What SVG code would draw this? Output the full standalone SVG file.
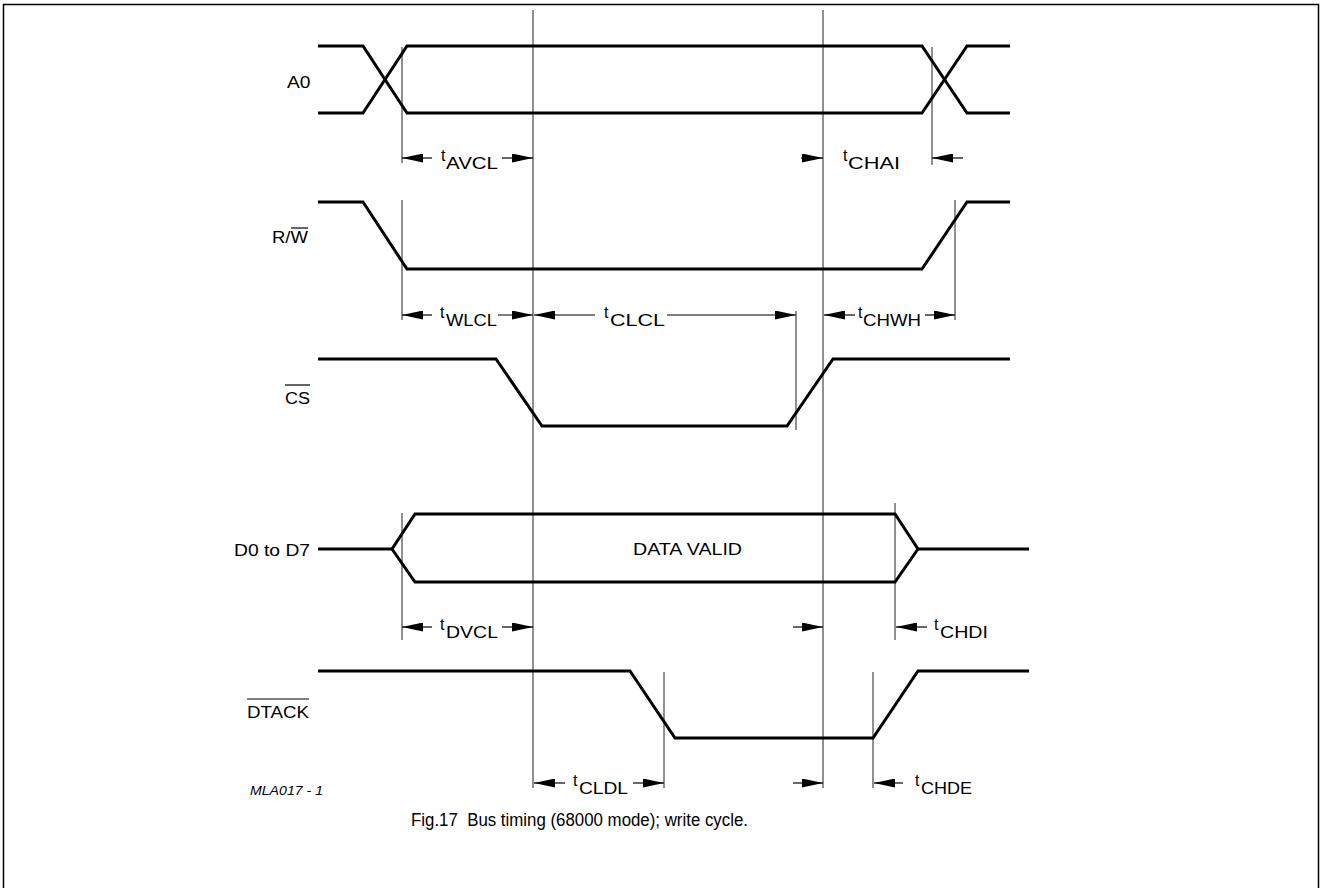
<svg xmlns="http://www.w3.org/2000/svg" width="1322" height="888" viewBox="0 0 1322 888">
<defs>
<marker id="ah" markerUnits="userSpaceOnUse" markerWidth="21" markerHeight="9" refX="21" refY="4.5" orient="auto">
<path d="M0,0 L21,4.5 L0,9 z" fill="#000"/>
</marker>
<style>
.sig{fill:none;stroke:#000;stroke-width:3;stroke-linejoin:miter}
.ref{fill:none;stroke:#222;stroke-width:1}
.arr{fill:none;stroke:#000;stroke-width:1.2;marker-end:url(#ah)}
.ovl{stroke:#000;stroke-width:1.2}
text{font-family:"Liberation Sans",Arial,sans-serif;font-size:16px;fill:#000}
</style>
</defs>
<rect x="0" y="0" width="1322" height="888" fill="#fff"/>
<path d="M3.5,900 V4.5 H1318.5 V900" fill="none" stroke="#000" stroke-width="1.5"/>

<g id="references">
<line class="ref" x1="533" y1="10" x2="533" y2="788"/>
<line class="ref" x1="823" y1="10" x2="823" y2="788"/>
<line class="ref" x1="402" y1="47" x2="402" y2="163"/>
<line class="ref" x1="932" y1="47" x2="932" y2="165"/>
<line class="ref" x1="402" y1="200" x2="402" y2="320"/>
<line class="ref" x1="955" y1="200" x2="955" y2="320"/>
<line class="ref" x1="796" y1="311" x2="796" y2="430"/>
<line class="ref" x1="402" y1="513" x2="402" y2="640"/>
<line class="ref" x1="895" y1="503" x2="895" y2="640"/>
<line class="ref" x1="664" y1="672" x2="664" y2="788"/>
<line class="ref" x1="873" y1="672" x2="873" y2="788"/>
</g>

<g id="sig-A0">
<text x="287" y="88" textLength="23.5" lengthAdjust="spacingAndGlyphs">A0</text>
<path class="sig" d="M318,46 H363 L407,113 H922 L967,46 H1010"/>
<path class="sig" d="M318,113 H363 L407,46 H922 L967,113 H1010"/>
</g>

<g id="sig-RW">
<text x="272" y="243" textLength="36" lengthAdjust="spacingAndGlyphs">R/W</text>
<line class="ovl" x1="291" y1="228" x2="308" y2="228"/>
<path class="sig" d="M318,202 H363 L407,269 H922 L967,202 H1010"/>
</g>

<g id="sig-CS">
<text x="285" y="404" textLength="25" lengthAdjust="spacingAndGlyphs">CS</text>
<line class="ovl" x1="285" y1="385" x2="310" y2="385"/>
<path class="sig" d="M318,359 H496 L542,426 H787 L833,359 H1010"/>
</g>

<g id="sig-D">
<text x="234" y="556" textLength="76" lengthAdjust="spacingAndGlyphs">D0 to D7</text>
<path class="sig" d="M318,549 H392 L415,514 H895 L918,549 H1029"/>
<path class="sig" d="M392,549 L415,582 H895 L918,549"/>
<text x="633" y="555" textLength="109" lengthAdjust="spacingAndGlyphs">DATA VALID</text>
</g>

<g id="sig-DTACK">
<text x="247" y="718" textLength="62" lengthAdjust="spacingAndGlyphs">DTACK</text>
<line class="ovl" x1="247" y1="699" x2="309" y2="699"/>
<path class="sig" d="M318,671 H630 L675,738 H873 L918,671 H1029"/>
</g>

<g id="connectors">
<line class="arr" x1="432" y1="158" x2="402" y2="158"/>
<line class="arr" x1="502" y1="158" x2="533" y2="158"/>
<line class="arr" x1="801" y1="158" x2="823" y2="158"/>
<line class="arr" x1="963" y1="158" x2="932" y2="158"/>

<line class="arr" x1="432" y1="315" x2="402" y2="315"/>
<line class="arr" x1="498" y1="315" x2="533" y2="315"/>
<line class="arr" x1="595" y1="315" x2="534" y2="315"/>
<line class="arr" x1="667" y1="315" x2="796" y2="315"/>
<line class="arr" x1="855" y1="315" x2="824" y2="315"/>
<line class="arr" x1="925" y1="315" x2="955" y2="315"/>

<line class="arr" x1="432" y1="627" x2="402" y2="627"/>
<line class="arr" x1="502" y1="627" x2="533" y2="627"/>
<line class="arr" x1="793" y1="627" x2="823" y2="627"/>
<line class="arr" x1="927" y1="627" x2="896" y2="627"/>

<line class="arr" x1="565" y1="783" x2="534" y2="783"/>
<line class="arr" x1="633" y1="783" x2="664" y2="783"/>
<line class="arr" x1="793" y1="783" x2="823" y2="783"/>
<line class="arr" x1="903" y1="783" x2="874" y2="783"/>
</g>

<g id="labels">
<text x="441" y="161">t</text><text x="446" y="168.5" textLength="52" lengthAdjust="spacingAndGlyphs">AVCL</text>
<text x="843" y="161">t</text><text x="848" y="168.5" textLength="52" lengthAdjust="spacingAndGlyphs">CHAI</text>
<text x="440" y="318">t</text><text x="446" y="325.5" textLength="51" lengthAdjust="spacingAndGlyphs">WLCL</text>
<text x="604" y="318">t</text><text x="610" y="325.5" textLength="55" lengthAdjust="spacingAndGlyphs">CLCL</text>
<text x="858" y="318">t</text><text x="863" y="325.5" textLength="58" lengthAdjust="spacingAndGlyphs">CHWH</text>
<text x="440" y="630">t</text><text x="446" y="637.5" textLength="52" lengthAdjust="spacingAndGlyphs">DVCL</text>
<text x="934" y="630">t</text><text x="940" y="637.5" textLength="48" lengthAdjust="spacingAndGlyphs">CHDI</text>
<text x="573" y="786">t</text><text x="579" y="793.5" textLength="49" lengthAdjust="spacingAndGlyphs">CLDL</text>
<text x="915" y="786">t</text><text x="921" y="793.5" textLength="51" lengthAdjust="spacingAndGlyphs">CHDE</text>
<text x="250" y="795" font-style="italic" style="font-size:13px" textLength="73" lengthAdjust="spacingAndGlyphs">MLA017 - 1</text>
<text x="411" y="826" style="font-size:18px" textLength="337" lengthAdjust="spacingAndGlyphs">Fig.17&#160; Bus timing (68000 mode); write cycle.</text>
</g>
</svg>
